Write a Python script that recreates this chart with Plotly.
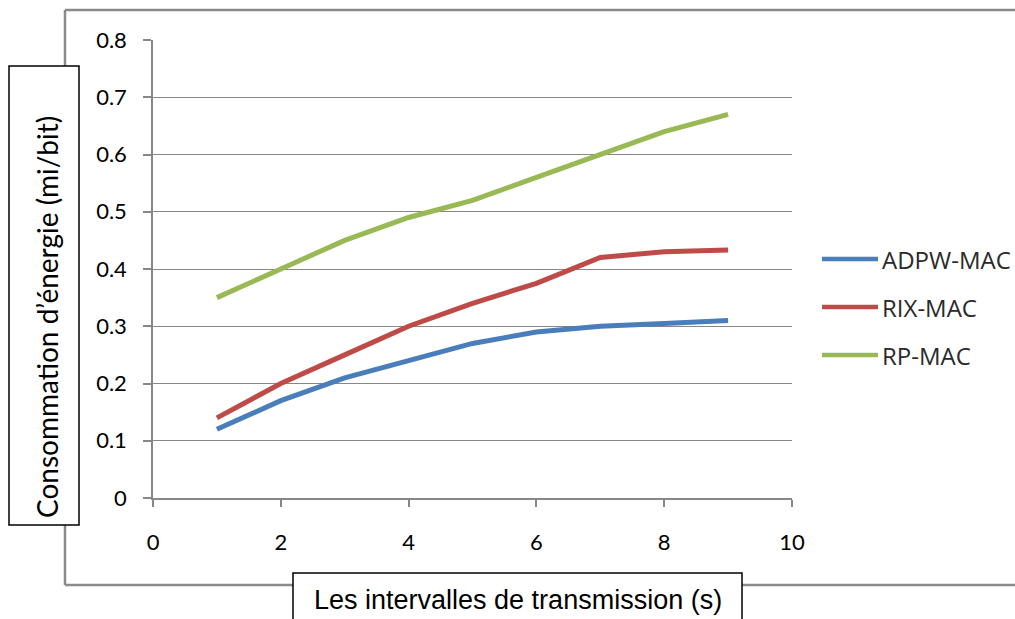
import plotly.graph_objects as go

# Transmission intervals (s) and energy consumption for each MAC protocol
intervals = [1, 2, 3, 4, 5, 6, 7, 8, 9]
adpw_mac = [0.12, 0.17, 0.21, 0.24, 0.27, 0.29, 0.30, 0.305, 0.31]
rix_mac = [0.14, 0.20, 0.25, 0.30, 0.34, 0.375, 0.42, 0.43, 0.433]
rp_mac = [0.35, 0.40, 0.45, 0.49, 0.52, 0.56, 0.60, 0.64, 0.67]

series_names = ["ADPW-MAC", "RIX-MAC", "RP-MAC"]
series_colors = ["#4A7EBB", "#BE4B48", "#98B954"]

x_ticks = [0, 2, 4, 6, 8, 10]
y_ticks = [0, 0.1, 0.2, 0.3, 0.4, 0.5, 0.6, 0.7, 0.8]
y_tick_text = ["0", "0.1", "0.2", "0.3", "0.4", "0.5", "0.6", "0.7", "0.8"]

W, H = 1015, 619
PL, PR, PT, PB = 153, 792, 40, 498  # plot-area edges in pixels
GRID = "#878787"
FRAME = "#8a8a8a"

fig = go.Figure()
for name, vals, col in zip(series_names, [adpw_mac, rix_mac, rp_mac], series_colors):
    fig.add_trace(go.Scatter(
        x=intervals, y=vals, mode="lines", name=name,
        line=dict(color=col, width=5), showlegend=False,
    ))

tick_font = dict(family="Lato, 'Open Sans', sans-serif", size=22, color="#000000")

fig.update_layout(
    width=W, height=H,
    margin=dict(l=PL, r=W - PR, t=PT, b=H - PB),
    paper_bgcolor="white", plot_bgcolor="white",
    xaxis=dict(
        range=[0, 10], tickvals=x_ticks, ticktext=[str(v) for v in x_ticks],
        showgrid=False, zeroline=False,
        showline=True, linecolor=GRID, linewidth=1.5,
        ticks="outside", ticklen=7, tickcolor=GRID, tickwidth=1.5,
        tickfont=tick_font, ticklabelstandoff=17,
    ),
    yaxis=dict(
        range=[0, 0.8], tickvals=y_ticks, ticktext=y_tick_text,
        showgrid=True, gridcolor=GRID, gridwidth=1.2, zeroline=False,
        showline=True, linecolor=GRID, linewidth=1.5,
        ticks="outside", ticklen=8, tickcolor=GRID, tickwidth=1.5,
        tickfont=tick_font, ticklabelstandoff=12,
    ),
)

# pixel -> paper coordinates (paper spans the plot area)
def px_x(v):
    return (v - PL) / (PR - PL)

def px_y(v):
    return (PB - v) / (PB - PT)

shapes = []
# Outer chart frame (broken where the axis-title boxes sit)
frame_segments = [
    (65, 10, W + 5, 10),
    (65, 10, 65, 66),
    (65, 525, 65, 585),
    (65, 585, 293, 585),
    (742, 585, W + 5, 585),
]
for x0, y0, x1, y1 in frame_segments:
    shapes.append(dict(type="line", xref="paper", yref="paper",
                       x0=px_x(x0), y0=px_y(y0), x1=px_x(x1), y1=px_y(y1),
                       line=dict(color=FRAME, width=2.5), layer="below"))
# Boxes around axis titles
shapes.append(dict(type="rect", xref="paper", yref="paper",
                   x0=px_x(9), y0=px_y(66), x1=px_x(79), y1=px_y(525),
                   line=dict(color="black", width=1.5), fillcolor="white"))
shapes.append(dict(type="rect", xref="paper", yref="paper",
                   x0=px_x(293), y0=px_y(573), x1=px_x(742), y1=px_y(H + 5),
                   line=dict(color="black", width=1.5), fillcolor="white"))

# Legend: short line sample + label for each series
legend_font = dict(family="'Open Sans', Lato, sans-serif", size=24, color="#2a2a2a")
for i, (name, col) in enumerate(zip(series_names, series_colors)):
    yy = 259 + 48 * i
    shapes.append(dict(type="line", xref="paper", yref="paper",
                       x0=px_x(822), x1=px_x(878), y0=px_y(yy), y1=px_y(yy),
                       line=dict(color=col, width=4.5)))
    fig.add_annotation(text=name, xref="paper", yref="paper",
                       x=px_x(880), y=px_y(yy), xanchor="left", yanchor="middle",
                       showarrow=False, font=legend_font)
fig.update_layout(shapes=shapes)

fig.add_annotation(text="Consommation d\u2019énergie (mi/bit)", textangle=-90,
                   xref="paper", yref="paper", x=px_x(47), y=px_y(317),
                   xanchor="center", yanchor="middle", showarrow=False,
                   font=dict(family="Lato, sans-serif", size=28, color="#000000"))
fig.add_annotation(text="Les intervalles de transmission (s)",
                   xref="paper", yref="paper", x=px_x(518), y=px_y(600),
                   xanchor="center", yanchor="middle", showarrow=False,
                   font=dict(family="'Liberation Sans', Arial, sans-serif", size=27,
                             color="#000000"))

fig.write_html("out.html")
